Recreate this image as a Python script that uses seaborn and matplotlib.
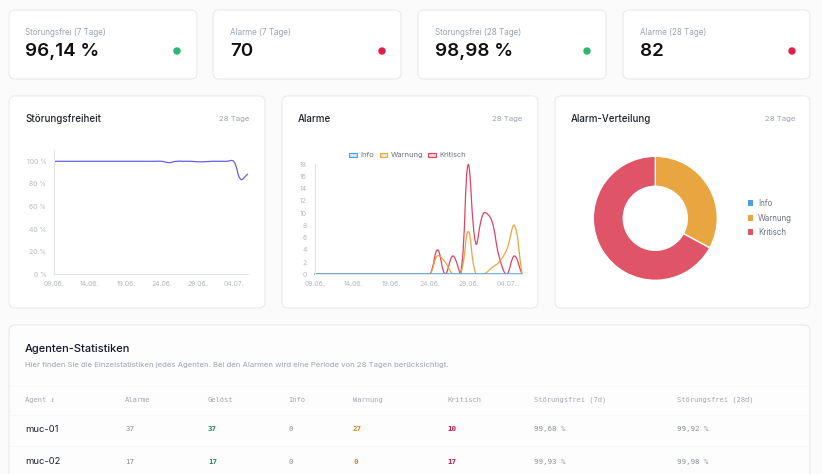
import numpy as np
import pandas as pd
import matplotlib
matplotlib.use("Agg")
import matplotlib.pyplot as plt
import seaborn as sns
from matplotlib.patches import FancyBboxPatch, Rectangle, Circle, PathPatch
from matplotlib.path import Path

# ---------------- data ----------------
kpi_labels = ["Störungsfrei (7 Tage)", "Alarme (7 Tage)", "Störungsfrei (28 Tage)", "Alarme (28 Tage)"]
kpi_values = ["96,14 %", "70", "98,98 %", "82"]
kpi_status = ["ok", "alarm", "ok", "alarm"]

dates = pd.date_range("2024-06-09", periods=28, freq="D")
date_labels = [d.strftime("%d.%m.") for d in dates]
tick_days = [0, 5, 10, 15, 20, 25]

stoerungsfrei = [100, 100, 100, 100, 100, 100, 100, 100, 100, 100, 100, 100, 100, 100, 100, 100,
                 98.8, 100, 100, 100, 99.6, 99.6, 100, 100, 100, 100, 84, 89]
sf_ticks = [0, 20, 40, 60, 80, 100]

alarm_info = [0] * 28
alarm_warnung = [0, 0, 0, 0, 0, 0, 0, 0, 0, 0, 0, 0, 0, 0, 0, 0,
                 3, 2, 0, 0, 7, 0, 0, 1, 2, 4, 8, 0]
alarm_kritisch = [0, 0, 0, 0, 0, 0, 0, 0, 0, 0, 0, 0, 0, 0, 0, 0,
                  4, 0, 3, 0, 18, 5, 10, 9, 3, 0, 3, 0]
alarm_ticks = list(range(0, 19, 2))

severity = ["Info", "Warnung", "Kritisch"]
pie_values = [sum(alarm_info), sum(alarm_warnung), sum(alarm_kritisch)]

table_columns = ["Agent \u2195", "Alarme", "Gelöst", "Info", "Warnung", "Kritisch",
                 "Störungsfrei (7d)", "Störungsfrei (28d)"]
agents = ["muc-01", "muc-02"]
agent_alarme = [37, 17]
agent_geloest = [37, 17]
agent_info = [0, 0]
agent_warnung = [27, 0]
agent_kritisch = [10, 17]
agent_sf7 = ["99,68 %", "99,93 %"]
agent_sf28 = ["99,92 %", "99,98 %"]

# ---------------- style ----------------
sns.set_theme(style="white")
plt.rcParams["font.family"] = ["Inter", "DejaVu Sans"]

C_INFO = "#4e9fdd"
C_WARN = "#e9a53f"
C_KRIT = "#dd4461"
C_PIE_KRIT = "#e05468"
C_LINE = "#6660e0"
GRAY = "#9ca3af"
TICK = "#b4b8be"
DARK = "#1f2328"
MONO = ["DejaVu Sans Mono"]

W, H = 822, 474
fig = plt.figure(figsize=(W / 100, H / 100), dpi=100)
fig.patch.set_facecolor("#fbfbfc")

bg = fig.add_axes([0, 0, 1, 1])
bg.set_xlim(0, W)
bg.set_ylim(H, 0)
bg.axis("off")


def card(x0, y0, x1, y1, fc="white"):
    p = FancyBboxPatch((x0, y0), x1 - x0, y1 - y0,
                       boxstyle="round,pad=0,rounding_size=6",
                       fc=fc, ec="#e9eaee", lw=0.8)
    bg.add_patch(p)


def fax(x, y, w, h):
    return fig.add_axes([x / W, 1 - (y + h) / H, w / W, h / H])


# ---------------- KPI cards ----------------
kpi_cards = [(9, 197, 25, 177), (213, 401, 230, 382), (418, 606, 435, 587), (623, 810, 640, 792)]
for (x0, x1, tx, dx), lab, val, st in zip(kpi_cards, kpi_labels, kpi_values, kpi_status):
    card(x0, 10, x1, 79)
    bg.text(tx, 32, lab, fontsize=5.8, color=GRAY, va="center", ha="left")
    bg.text(tx, 51.5, val, fontsize=13.5, color="#111111", va="center", ha="left",
            fontweight="semibold")
    bg.add_patch(Circle((dx, 51), 3, color="#2bb673" if st == "ok" else "#e11d48"))

# ---------------- chart cards ----------------
chart_cards = [(9, 265, 25, 249, "Störungsfreiheit"),
               (282, 538, 298, 522, "Alarme"),
               (555, 810, 571, 795, "Alarm-Verteilung")]
for x0, x1, tx, rx, title in chart_cards:
    card(x0, 96, x1, 308)
    bg.text(tx, 119, title, fontsize=7.0, color=DARK, va="center", ha="left", fontweight="medium")
    bg.text(rx, 119, "28 Tage", fontsize=5.6, color=GRAY, va="center", ha="right")


def spline_path(xs, ys, xlim, ylim, wpx, hpx, t=0.4):
    xs = np.asarray(xs, float)
    ys = np.asarray(ys, float)
    sx = wpx / (xlim[1] - xlim[0])
    sy = hpx / (ylim[1] - ylim[0])
    px = (xs - xlim[0]) * sx
    py = (ys - ylim[0]) * sy
    n = len(px)
    cp_prev = np.zeros((n, 2))
    cp_next = np.zeros((n, 2))
    for i in range(n):
        a = max(i - 1, 0)
        b = min(i + 1, n - 1)
        d01 = np.hypot(px[i] - px[a], py[i] - py[a])
        d12 = np.hypot(px[b] - px[i], py[b] - py[i])
        s = d01 + d12
        s01 = d01 / s if s > 0 else 0
        s12 = d12 / s if s > 0 else 0
        dx = px[b] - px[a]
        dy = py[b] - py[a]
        cp_prev[i] = (px[i] - t * s01 * dx, py[i] - t * s01 * dy)
        cp_next[i] = (px[i] + t * s12 * dx, py[i] + t * s12 * dy)
    for cp in (cp_prev, cp_next):
        cp[:, 0] = np.clip(cp[:, 0], 0, wpx)
        cp[:, 1] = np.clip(cp[:, 1], 0, hpx)
    verts = [(px[0], py[0])]
    codes = [Path.MOVETO]
    for i in range(n - 1):
        verts += [tuple(cp_next[i]), tuple(cp_prev[i + 1]), (px[i + 1], py[i + 1])]
        codes += [Path.CURVE4] * 3
    v = np.array(verts)
    v[:, 0] = v[:, 0] / sx + xlim[0]
    v[:, 1] = v[:, 1] / sy + ylim[0]
    return Path(v, codes)


def style_axis(ax):
    ax.set_facecolor("none")
    for s in ["top", "right"]:
        ax.spines[s].set_visible(False)
    for s in ["left", "bottom"]:
        ax.spines[s].set_color("#e4e5ea")
        ax.spines[s].set_linewidth(0.8)
    ax.tick_params(axis="both", length=0, labelsize=4.9, labelcolor=TICK)
    ax.tick_params(axis="y", pad=5.5)
    ax.tick_params(axis="x", pad=5)
    ax.grid(False)


day_idx = np.arange(len(dates))

# ---- Chart 1: Störungsfreiheit ----
r1 = (54, 150, 194, 124.3)
ax1 = fax(*r1)
style_axis(ax1)
ax1.set_xlim(0, 27)
ax1.set_ylim(0, 110)
ax1.add_patch(PathPatch(spline_path(day_idx, stoerungsfrei, (0, 27), (0, 110), r1[2], r1[3]),
                        fill=False, ec=C_LINE, lw=0.9, clip_on=False))
ax1.set_yticks(sf_ticks)
ax1.set_yticklabels([f"{v} %" for v in sf_ticks])
ax1.set_xticks(tick_days)
ax1.set_xticklabels([date_labels[i] for i in tick_days])
ax1.set_xlabel("")

# ---- Chart 2: Alarme ----
r2 = (314.7, 164.3, 207.3, 110)
ax2 = fax(*r2)
style_axis(ax2)
df_alarm = pd.DataFrame({"tag": day_idx, "Info": alarm_info,
                         "Warnung": alarm_warnung, "Kritisch": alarm_kritisch})
for name, col in [("Kritisch", C_KRIT), ("Warnung", C_WARN)]:
    ax2.add_patch(PathPatch(spline_path(day_idx, df_alarm[name], (0, 27), (0, 18), r2[2], r2[3]),
                            fill=False, ec=col, lw=0.9, clip_on=False))
sns.lineplot(data=df_alarm, x="tag", y="Info", ax=ax2, color=C_INFO, lw=1.1, clip_on=False)
ax2.set_xlim(0, 27)
ax2.set_ylim(0, 18)
ax2.set_xlabel("")
ax2.set_ylabel("")
ax2.set_yticks(alarm_ticks)
ax2.set_yticklabels([str(v) for v in alarm_ticks])
ax2.set_xticks(tick_days)
ax2.set_xticklabels([date_labels[i] for i in tick_days])

# legend for alarm chart
leg_pos = [(349, 360.5), (379.5, 391), (428, 439.5)]
for (bx, tx), name, col in zip(leg_pos, severity, [C_INFO, C_WARN, C_KRIT]):
    bg.add_patch(Rectangle((bx, 153.2), 7.5, 3.6, fc=col, alpha=0.25, ec="none"))
    bg.add_patch(Rectangle((bx, 153.2), 7.5, 3.6, fc="none", ec=col, lw=0.8))
    bg.text(tx, 155, name, fontsize=5.4, color="#6b7280", va="center", ha="left")

# ---- Chart 3: donut ----
cx, cy, R = 655.3, 218.3, 62.0
half = 70
ax3 = fax(cx - half, cy - half, 2 * half, 2 * half)
ax3.set_facecolor("none")
ax3.pie(pie_values, colors=[C_INFO, C_WARN, C_PIE_KRIT], startangle=90, counterclock=False,
        radius=1.0, wedgeprops=dict(width=30 / 62, edgecolor="white", linewidth=1.0))
ax3.set_xlim(-half / R, half / R)
ax3.set_ylim(-half / R, half / R)
ax3.set_aspect("equal")
ax3.axis("off")

for yy, name, col in zip([203, 218, 232], severity, [C_INFO, C_WARN, C_PIE_KRIT]):
    bg.add_patch(Rectangle((748, yy - 2.6), 5.2, 5.2, fc=col, ec="none"))
    bg.text(758, yy, name, fontsize=5.7, color="#6b7280", va="center", ha="left")

# ---------------- table ----------------
card(9, 325, 810, 490, fc="#fdfdfe")
bg.text(25, 349.3, "Agenten-Statistiken", fontsize=8.0, color="#111827", va="center",
        ha="left", fontweight="medium")
bg.text(25, 365, "Hier finden Sie die Einzelstatistiken jedes Agenten. Bei den Alarmen wird eine "
                 "Periode von 28 Tagen berücksichtigt.",
        fontsize=5.6, color=GRAY, va="center", ha="left")

col_x = [25, 125, 208, 288, 353, 447, 534, 677]
for y in [386, 414.5, 445.5]:
    bg.plot([10, 809], [y, y], color="#f4f5f7", lw=0.5)

for x, name in zip(col_x, table_columns):
    fam = ["DejaVu Sans Mono", "DejaVu Sans"]
    bg.text(x, 400, name, fontsize=5.1, color="#a3a7ae", va="center", ha="left", family=fam)

row_y = [429.3, 461.7]
for k, y in enumerate(row_y):
    bg.text(col_x[0], y, agents[k], fontsize=6.8, color=DARK, va="center", ha="left")
    bg.text(col_x[1], y, str(agent_alarme[k]), fontsize=5.4, color="#8b9097", va="center", family=MONO)
    bg.text(col_x[2], y, str(agent_geloest[k]), fontsize=5.4, color="#2e8b57", va="center",
            family=MONO, fontweight="bold")
    bg.text(col_x[3], y, str(agent_info[k]), fontsize=5.4, color="#8b9097", va="center", family=MONO)
    bg.text(col_x[4], y, str(agent_warnung[k]), fontsize=5.4, color="#d9822b", va="center",
            family=MONO, fontweight="bold")
    bg.text(col_x[5], y, str(agent_kritisch[k]), fontsize=5.4, color="#c8174e", va="center",
            family=MONO, fontweight="bold")
    bg.text(col_x[6], y, agent_sf7[k], fontsize=5.4, color="#8b9097", va="center", family=MONO)
    bg.text(col_x[7], y, agent_sf28[k], fontsize=5.4, color="#8b9097", va="center", family=MONO)

fig.savefig("out.png", dpi=100, facecolor=fig.get_facecolor())
